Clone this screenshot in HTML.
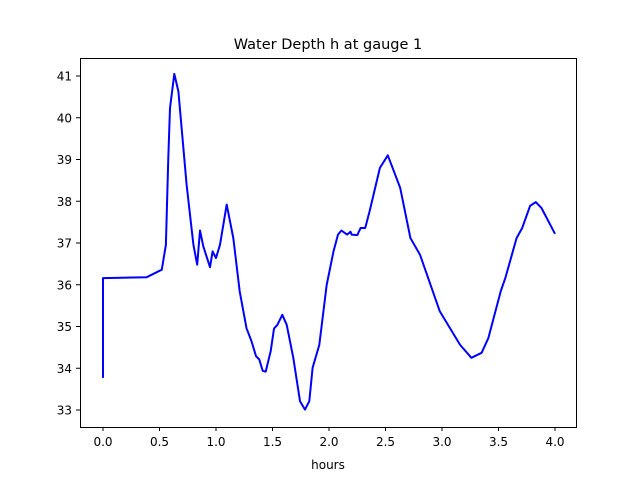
<!DOCTYPE html>
<html><head><meta charset="utf-8"><style>
body{margin:0;background:#fff;font-family:"Liberation Sans","DejaVu Sans",sans-serif}
svg text{font-family:"DejaVu Sans","Liberation Sans",sans-serif}
</style></head><body>
<svg id="chart" width="640" height="480" xmlns="http://www.w3.org/2000/svg">
<rect width="640" height="480" fill="#fff"/>
<text x="328" y="49" font-size="14.5" text-anchor="middle">Water Depth h at gauge 1</text>
<text x="328" y="469" font-size="12" text-anchor="middle">hours</text>
<g id="ticks"></g>
<path id="line" fill="none" stroke="#0000ff" stroke-width="2" stroke-linejoin="round"/>
<rect x="80.5" y="58.5" width="496" height="369" fill="none" stroke="#000" stroke-width="1"/>
</svg>
<script>
const times=[0,0,0.387,0.52,0.557,0.578,0.593,0.631,0.667,0.74,0.8,0.834,0.858,0.888,0.947,0.97,1.0,1.035,1.095,1.153,1.21,1.27,1.315,1.354,1.383,1.413,1.44,1.484,1.513,1.543,1.587,1.626,1.684,1.743,1.788,1.826,1.855,1.914,1.98,2.04,2.08,2.11,2.16,2.19,2.2,2.25,2.28,2.32,2.36,2.45,2.52,2.63,2.72,2.805,2.98,3.16,3.26,3.35,3.41,3.52,3.56,3.66,3.71,3.78,3.83,3.88,4.0];
const depths=[33.77,36.16,36.18,36.36,36.96,39.04,40.23,41.05,40.63,38.4,36.96,36.48,37.3,36.92,36.42,36.8,36.64,36.96,37.92,37.12,35.84,34.96,34.64,34.29,34.21,33.94,33.92,34.41,34.95,35.04,35.28,35.04,34.25,33.21,33.01,33.21,34.01,34.56,36.0,36.8,37.2,37.3,37.2,37.27,37.2,37.19,37.36,37.36,37.77,38.8,39.1,38.32,37.12,36.72,35.37,34.56,34.25,34.37,34.72,35.85,36.16,37.12,37.36,37.89,37.98,37.84,37.22];
const xTicks=[0,0.5,1,1.5,2,2.5,3,3.5,4];
const xTickLabels=["0.0","0.5","1.0","1.5","2.0","2.5","3.0","3.5","4.0"];
const yTicks=[33,34,35,36,37,38,39,40,41];
const yTickLabels=["33","34","35","36","37","38","39","40","41"];
const xs=t=>103+t*113;
const ys=h=>76+(41-h)*41.75;
const NS="http://www.w3.org/2000/svg";
const g=document.getElementById('ticks');
xTicks.forEach((t,i)=>{
 const l=document.createElementNS(NS,'line');
 
 
 l.setAttribute('x1',xs(t));l.setAttribute('x2',xs(t));l.setAttribute('y1',427);l.setAttribute('y2',431);l.setAttribute('stroke','#000');
 g.appendChild(l);
 const tx=document.createElementNS(NS,'text');
 
 
 tx.setAttribute('x',xs(t));tx.setAttribute('y',446);tx.setAttribute('font-size','12');tx.setAttribute('text-anchor','middle');
 tx.textContent=xTickLabels[i];g.appendChild(tx);
});
yTicks.forEach((v,i)=>{
 const l=document.createElementNS(NS,'line');
 
 
 l.setAttribute('x1',76);l.setAttribute('x2',80);l.setAttribute('y1',ys(v));l.setAttribute('y2',ys(v));l.setAttribute('stroke','#000');
 g.appendChild(l);
 const tx=document.createElementNS(NS,'text');
 
 
 tx.setAttribute('x',72);tx.setAttribute('y',ys(v)+4.5);tx.setAttribute('font-size','12');tx.setAttribute('text-anchor','end');
 tx.textContent=yTickLabels[i];g.appendChild(tx);
});
document.getElementById('line').setAttribute('d',times.map((t,i)=>(i?'L':'M')+xs(t).toFixed(1)+' '+ys(depths[i]).toFixed(1)).join(' '));
</script>
</body></html>
